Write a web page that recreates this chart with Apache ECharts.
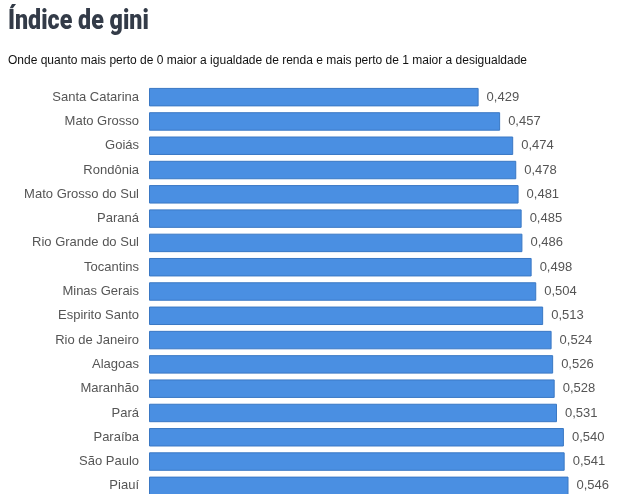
<!DOCTYPE html>
<html>
<head>
<meta charset="utf-8">
<script src="https://cdn.jsdelivr.net/npm/echarts@6/dist/echarts.min.js"></script>
<style>
html,body{margin:0;padding:0;background:#fff;}
#main{width:637px;height:494px;}
</style>
</head>
<body>
<div id="main"></div>
<script>
var estados = ['Santa Catarina', 'Mato Grosso', 'Goiás', 'Rondônia', 'Mato Grosso do Sul', 'Paraná',
    'Rio Grande do Sul', 'Tocantins', 'Minas Gerais', 'Espirito Santo', 'Rio de Janeiro', 'Alagoas',
    'Maranhão', 'Pará', 'Paraíba', 'São Paulo', 'Piauí'];
var gini = [0.429, 0.457, 0.474, 0.478, 0.481, 0.485, 0.486, 0.498, 0.504, 0.513, 0.524, 0.526,
    0.528, 0.531, 0.540, 0.541, 0.546];

var chart = echarts.init(document.getElementById('main'));
chart.setOption({
    animation: false,
    // titulo condensado: texto comprimido na horizontal
    graphic: [{
        type: 'text',
        x: 8,
        y: 22,
        scaleX: 0.86,
        style: {
            text: 'Índice de gini',
            font: '900 27px Roboto, "Liberation Sans", sans-serif',
            fill: '#333b48',
            verticalAlign: 'middle'
        }
    }],
    title: {
        text: 'Onde quanto mais perto de 0 maior a igualdade de renda e mais perto de 1 maior a desigualdade',
        left: 3,
        top: 50,
        textStyle: {
            fontFamily: 'Arial, "Liberation Sans", sans-serif',
            fontWeight: 'normal',
            fontSize: 12,
            color: '#111'
        }
    },
    grid: {
        left: 149,
        top: 85,
        width: 461,
        height: 413,
        outerBoundsMode: 'none'
    },
    xAxis: {
        type: 'value',
        min: 0,
        max: 0.6,
        show: false
    },
    yAxis: {
        type: 'category',
        inverse: true,
        data: estados,
        axisLine: {show: false},
        axisTick: {show: false},
        axisLabel: {
            margin: 10,
            fontFamily: 'Arial, "Liberation Sans", sans-serif',
            fontSize: 13,
            color: '#555'
        }
    },
    series: [{
        type: 'bar',
        data: gini,
        barCategoryGap: '24%',
        itemStyle: {
            color: '#4a8fe2',
            borderColor: '#3a78c4',
            borderWidth: 1
        },
        label: {
            show: true,
            position: 'right',
            distance: 8,
            fontFamily: 'Arial, "Liberation Sans", sans-serif',
            fontSize: 13,
            color: '#555',
            formatter: function (p) {
                return p.value.toFixed(3).replace('.', ',');
            }
        }
    }]
});
</script>
</body>
</html>
